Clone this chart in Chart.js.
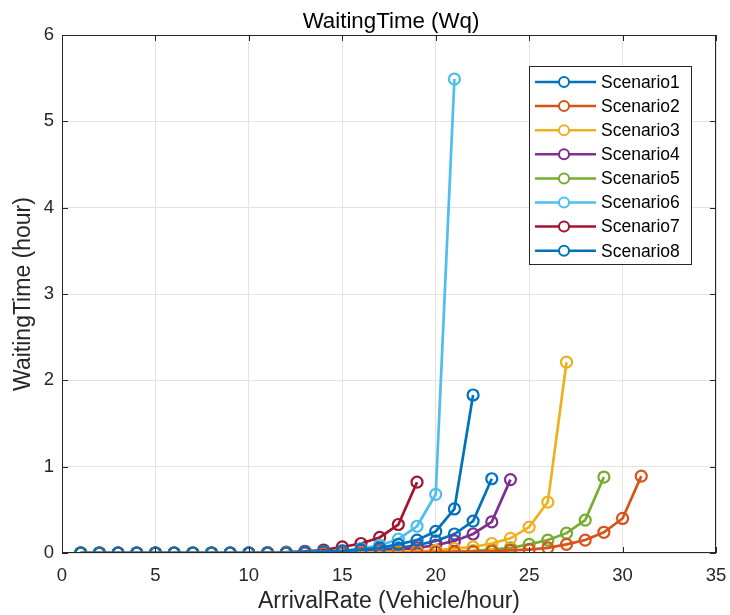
<!DOCTYPE html>
<html>
<head>
<meta charset="utf-8">
<script src="https://cdn.jsdelivr.net/npm/chart.js@4"></script>
<style>
  html, body { margin: 0; padding: 0; background: #fff; }
  #wrap { width: 730px; height: 615px; }
</style>
</head>
<body>
<div id="wrap"><canvas id="chart" width="730" height="615"></canvas></div>
<script>
// values, index 0 -> arrival rate 1
const scenario1 = [0,0,0,0,0,0,0,0,0,0,0,0, 0.01,0.015,0.025,0.04,0.06,0.1,0.15,0.25,0.51,1.83];
const scenario2 = [0,0,0,0,0,0,0,0,0,0,0,0,0,0,0,0,0,0, 0.005,0.01,0.012,0.015,0.02,0.03,0.04,0.06,0.1,0.15,0.24,0.4,0.89];
const scenario3 = [0,0,0,0,0,0,0,0,0,0,0,0,0,0,0, 0.005,0.01,0.015,0.02,0.03,0.05,0.07,0.11,0.17,0.3,0.59,2.21];
const scenario4 = [0,0,0,0,0,0,0,0,0,0,0,0,0, 0.005,0.01,0.015,0.025,0.04,0.06,0.09,0.14,0.22,0.36,0.85];
const scenario5 = [0,0,0,0,0,0,0,0,0,0,0,0,0,0,0,0,0, 0.005,0.01,0.012,0.015,0.025,0.04,0.06,0.1,0.15,0.23,0.38,0.88];
const scenario6 = [0,0,0,0,0,0,0,0,0,0,0, 0.005,0.01,0.015,0.025,0.05,0.09,0.16,0.31,0.68,5.49];
const scenario7 = [0,0,0,0,0,0,0,0,0,0, 0.005,0.01,0.02,0.035,0.07,0.11,0.18,0.33,0.82];
const scenario8 = [0,0,0,0,0,0,0,0,0,0,0,0, 0.01,0.01,0.015,0.025,0.04,0.06,0.09,0.14,0.22,0.37,0.86];

const seriesNames = ["Scenario1","Scenario2","Scenario3","Scenario4","Scenario5","Scenario6","Scenario7","Scenario8"];
const seriesValues = [scenario1, scenario2, scenario3, scenario4, scenario5, scenario6, scenario7, scenario8];
const seriesColors = ["#0072BD","#D95319","#EDB120","#7E2F8E","#77AC30","#4DBEEE","#A2142F","#0072BD"];

const xTicks = [0,5,10,15,20,25,30,35];
const yTicks = [0,1,2,3,4,5,6];

const AXIS = "#262626";
const FONT = "'Liberation Sans', Arial, sans-serif";

const matlabFrame = {
  id: "matlabFrame",
  afterDraw(chart) {
    const { ctx, chartArea: a, scales } = chart;
    ctx.save();
    // box
    ctx.strokeStyle = AXIS;
    ctx.lineWidth = 1;
    ctx.strokeRect(a.left + 0.5, a.top + 0.5, a.right - a.left - 1, a.bottom - a.top - 1);
    // inward ticks
    ctx.beginPath();
    xTicks.forEach((v) => {
      const px = Math.round(scales.x.getPixelForValue(v)) + 0.5;
      ctx.moveTo(px, a.bottom); ctx.lineTo(px, a.bottom - 6);
      ctx.moveTo(px, a.top); ctx.lineTo(px, a.top + 6);
    });
    yTicks.forEach((v) => {
      const py = Math.round(scales.y.getPixelForValue(v)) + 0.5;
      ctx.moveTo(a.left, py); ctx.lineTo(a.left + 6, py);
      ctx.moveTo(a.right, py); ctx.lineTo(a.right - 6, py);
    });
    ctx.stroke();

    // title
    ctx.fillStyle = "#000";
    ctx.font = "22.3px " + FONT;
    ctx.textAlign = "center";
    ctx.textBaseline = "alphabetic";
    ctx.fillText("WaitingTime (Wq)", (a.left + a.right) / 2 + 2, 28);

    // legend
    const lx = 529, ly = 66, lw = 162, lh = 198;
    ctx.fillStyle = "#fff";
    ctx.fillRect(lx, ly, lw, lh);
    ctx.strokeStyle = AXIS;
    ctx.strokeRect(lx + 0.5, ly + 0.5, lw, lh);
    ctx.font = "17.5px " + FONT;
    ctx.textAlign = "left";
    ctx.textBaseline = "middle";
    chart.data.datasets.forEach((ds, i) => {
      const y = 82 + i * 24.1;
      ctx.strokeStyle = ds.borderColor;
      ctx.lineWidth = 2.5;
      ctx.beginPath();
      ctx.moveTo(535, y); ctx.lineTo(596, y);
      ctx.stroke();
      ctx.lineWidth = 2;
      ctx.beginPath();
      ctx.arc(564, y, 5, 0, Math.PI * 2);
      ctx.fillStyle = "#fff";
      ctx.fill();
      ctx.stroke();
      ctx.fillStyle = "#000";
      ctx.fillText(ds.label, 601, y + 1);
    });
    ctx.restore();
  },
};

new Chart(document.getElementById("chart"), {
  type: "line",
  data: {
    datasets: seriesValues.map((vals, i) => ({
      label: seriesNames[i],
      data: vals.map((v, k) => ({ x: k + 1, y: v })),
      borderColor: seriesColors[i],
      backgroundColor: "rgba(0,0,0,0)",
      borderWidth: 2.7,
      pointRadius: 5.5,
      pointBorderWidth: 2.2,
      pointBackgroundColor: "rgba(0,0,0,0)",
      pointBorderColor: seriesColors[i],
      tension: 0,
    })),
  },
  plugins: [matlabFrame],
  options: {
    responsive: false,
    animation: false,
    layout: { padding: { top: 35, right: 14, left: 0, bottom: 0 } },
    plugins: { legend: { display: false }, tooltip: { enabled: false }, title: { display: false } },
    scales: {
      x: {
        type: "linear",
        min: 0,
        max: 35,
        afterFit: (s) => { s.height = 62; s.paddingLeft = 0; s.paddingRight = 0; },
        afterBuildTicks: (s) => { s.ticks = xTicks.map((v) => ({ value: v })); },
        grid: { color: "#e3e3e3", drawTicks: false },
        border: { display: false },
        ticks: { color: AXIS, font: { family: FONT, size: 18.5 }, padding: 12, maxRotation: 0 },
        title: { display: true, text: "ArrivalRate (Vehicle/hour)", color: AXIS, font: { family: FONT, size: 23 }, padding: { top: 0, bottom: 0 } },
      },
      y: {
        min: 0,
        max: 6,
        afterFit: (s) => { s.width = 62; s.paddingTop = 0; s.paddingBottom = 0; },
        afterBuildTicks: (s) => { s.ticks = yTicks.map((v) => ({ value: v })); },
        grid: { color: "#e3e3e3", drawTicks: false },
        border: { display: false },
        ticks: { color: AXIS, font: { family: FONT, size: 18.5 }, padding: 8 },
        title: { display: true, text: "WaitingTime (hour)", color: AXIS, font: { family: FONT, size: 23 }, padding: { top: 10, bottom: 0 } },
      },
    },
  },
});
</script>
</body>
</html>
